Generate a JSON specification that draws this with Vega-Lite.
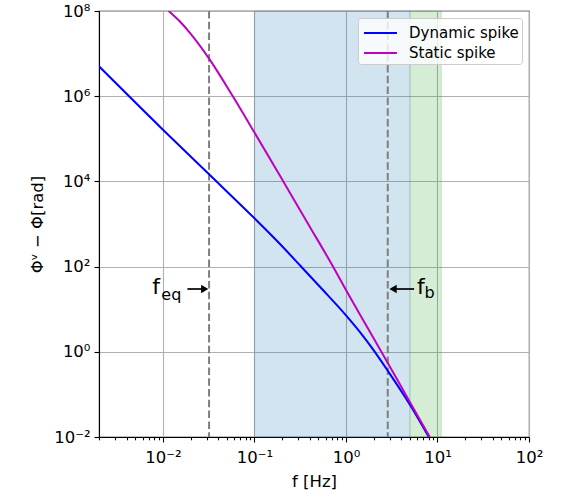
{
  "$schema": "https://vega.github.io/schema/vega-lite/v6.json",
  "width": 430,
  "height": 426,
  "autosize": {"type": "none"},
  "padding": {"left": 99, "top": 11, "right": 40, "bottom": 60},
  "config": {
    "font": "DejaVu Sans",
    "view": {"stroke": "#000000", "strokeWidth": 1.1},
    "axis": {
      "gridColor": "#b0b0b0",
      "gridWidth": 1.1,
      "tickColor": "#000000",
      "tickWidth": 1.1,
      "domainColor": "#000000",
      "domainWidth": 1.1,
      "labelFontSize": 16.5,
      "labelColor": "#000000",
      "labelFlush": false,
      "labelOverlap": false,
      "titleFontSize": 16.5,
      "titleFontWeight": "normal",
      "titleColor": "#000000"
    },
    "legend": {
      "labelFontSize": 15,
      "labelColor": "#000000"
    }
  },
  "datasets": {
    "curves": [
      {"series": "Dynamic spike", "f": 0.002, "phi": 5040000},
      {"series": "Dynamic spike", "f": 0.01, "phi": 163700},
      {"series": "Dynamic spike", "f": 0.03189, "phi": 14690},
      {"series": "Dynamic spike", "f": 0.1, "phi": 1361},
      {"series": "Dynamic spike", "f": 0.1757, "phi": 403.6},
      {"series": "Dynamic spike", "f": 0.3135, "phi": 107.9},
      {"series": "Dynamic spike", "f": 0.56, "phi": 28.25},
      {"series": "Dynamic spike", "f": 1, "phi": 7.19},
      {"series": "Dynamic spike", "f": 1.423, "phi": 2.9},
      {"series": "Dynamic spike", "f": 1.975, "phi": 1.138},
      {"series": "Dynamic spike", "f": 2.883, "phi": 0.3504},
      {"series": "Dynamic spike", "f": 5.02, "phi": 0.0567},
      {"series": "Dynamic spike", "f": 8.05, "phi": 0.01},
      {"series": "Static spike", "f": 0.01154, "phi": 100000000},
      {"series": "Static spike", "f": 0.01524, "phi": 57300000},
      {"series": "Static spike", "f": 0.0196, "phi": 31100000},
      {"series": "Static spike", "f": 0.03245, "phi": 7230000},
      {"series": "Static spike", "f": 0.05691, "phi": 1067000},
      {"series": "Static spike", "f": 0.1001, "phi": 140000},
      {"series": "Static spike", "f": 0.2059, "phi": 10100},
      {"series": "Static spike", "f": 0.4036, "phi": 855},
      {"series": "Static spike", "f": 0.7262, "phi": 97.9},
      {"series": "Static spike", "f": 1, "phi": 28.2},
      {"series": "Static spike", "f": 1.655, "phi": 4.26},
      {"series": "Static spike", "f": 2.883, "phi": 0.531},
      {"series": "Static spike", "f": 5.02, "phi": 0.0649},
      {"series": "Static spike", "f": 8.23, "phi": 0.01}
    ],
    "spans": [
      {"zone": "A", "f": 0.1, "f2": 5},
      {"zone": "B", "f": 5, "f2": 11}
    ],
    "marks": [
      {"name": "f_eq", "f": 0.0319},
      {"name": "f_b", "f": 2.86}
    ],
    "arrows": [
      {"name": "f_eq", "head": 0.0286, "tail": 0.01849, "phi": 29.8, "dir": "right"},
      {"name": "f_b", "head": 3.27, "tail": 5.55, "phi": 29.8, "dir": "left"}
    ],
    "mainText": [
      {"f": 0.00766, "phi": 22.4, "label": "f"},
      {"f": 5.99, "phi": 22.4, "label": "f"}
    ],
    "subText": [
      {"f": 0.0096, "phi": 16.4, "label": "eq"},
      {"f": 7.22, "phi": 18.0, "label": "b"}
    ]
  },
  "layer": [
    {
      "data": {"name": "spans"},
      "mark": {"type": "rect", "fillOpacity": 0.2, "strokeOpacity": 0.2, "strokeWidth": 1},
      "encoding": {
        "x": {
          "field": "f",
          "type": "quantitative",
          "scale": {"type": "log", "domain": [0.002, 100], "nice": false},
          "axis": {
            "title": "f [Hz]",
            "titlePadding": 8,
            "labelPadding": 7,
            "values": [0.002, 0.003, 0.004, 0.005, 0.006, 0.007, 0.008, 0.009, 0.01, 0.02, 0.03, 0.04, 0.05, 0.06, 0.07, 0.08, 0.09, 0.1, 0.2, 0.3, 0.4, 0.5, 0.6, 0.7, 0.8, 0.9, 1, 2, 3, 4, 5, 6, 7, 8, 9, 10, 20, 30, 40, 50, 60, 70, 80, 90, 100],
            "labelExpr": "abs(log(datum.value)/LN10 - round(log(datum.value)/LN10)) < 0.001 ? '10' + ['⁻²','⁻¹','⁰','¹','²'][round(log(datum.value)/LN10)+2] : ''",
            "tickSize": {"condition": {"test": "abs(log(datum.value)/LN10 - round(log(datum.value)/LN10)) < 0.001", "value": 5}, "value": 2.8},
            "gridOpacity": {"condition": {"test": "abs(log(datum.value)/LN10 - round(log(datum.value)/LN10)) < 0.001", "value": 1}, "value": 0}
          }
        },
        "x2": {"field": "f2"},
        "fill": {"field": "zone", "type": "nominal", "scale": {"domain": ["A", "B"], "range": ["#1f77b4", "#2ca02c"]}, "legend": null},
        "stroke": {"field": "zone", "type": "nominal", "scale": {"domain": ["A", "B"], "range": ["#1f77b4", "#2ca02c"]}, "legend": null}
      }
    },
    {
      "data": {"name": "marks"},
      "mark": {"type": "rule", "color": "#7f7f7f", "strokeWidth": 2, "strokeDash": [7.5, 3.3]},
      "encoding": {
        "x": {"field": "f", "type": "quantitative", "scale": {"type": "log", "domain": [0.002, 100], "nice": false}}
      }
    },
    {
      "data": {"name": "curves"},
      "mark": {"type": "line", "strokeWidth": 2, "clip": true, "interpolate": "monotone"},
      "encoding": {
        "x": {"field": "f", "type": "quantitative", "scale": {"type": "log", "domain": [0.002, 100], "nice": false}},
        "y": {
          "field": "phi",
          "type": "quantitative",
          "scale": {"type": "log", "domain": [0.01, 100000000], "nice": false},
          "axis": {
            "title": "Φᵛ − Φ[rad]",
            "titlePadding": 8,
            "labelPadding": 4,
            "values": [0.01, 1, 100, 10000, 1000000, 100000000],
            "labelExpr": "'10' + ['⁻²','⁻¹','⁰','¹','²','³','⁴','⁵','⁶','⁷','⁸'][round(log(datum.value)/LN10)+2]",
            "tickSize": 5
          }
        },
        "color": {
          "field": "series",
          "type": "nominal",
          "scale": {"domain": ["Dynamic spike", "Static spike"], "range": ["#0000ff", "#bf00bf"]},
          "legend": {
            "title": null,
            "orient": "top-right",
            "offset": 7,
            "fillColor": "rgba(255,255,255,0.8)",
            "strokeColor": "#cccccc",
            "cornerRadius": 3,
            "padding": 3,
            "rowPadding": 0,
            "labelOffset": 24,
            "symbolType": "M-0.82,0H2.18",
            "symbolSize": 484,
            "symbolStrokeWidth": 2
          }
        }
      }
    },
    {
      "data": {"name": "arrows"},
      "mark": {"type": "rule", "color": "#000000", "strokeWidth": 1.7},
      "encoding": {
        "x": {"field": "head", "type": "quantitative", "scale": {"type": "log", "domain": [0.002, 100], "nice": false}},
        "x2": {"field": "tail"},
        "y": {"field": "phi", "type": "quantitative", "scale": {"type": "log", "domain": [0.01, 100000000], "nice": false}}
      }
    },
    {
      "data": {"name": "arrows"},
      "mark": {"type": "point", "filled": true, "color": "#000000", "opacity": 1, "size": 70},
      "encoding": {
        "x": {"field": "head", "type": "quantitative", "scale": {"type": "log", "domain": [0.002, 100], "nice": false}},
        "y": {"field": "phi", "type": "quantitative", "scale": {"type": "log", "domain": [0.01, 100000000], "nice": false}},
        "shape": {"field": "dir", "type": "nominal", "scale": {"domain": ["right", "left"], "range": ["triangle-right", "triangle-left"]}, "legend": null}
      }
    },
    {
      "data": {"name": "mainText"},
      "mark": {"type": "text", "fontSize": 22, "align": "left", "baseline": "alphabetic", "color": "#000000"},
      "encoding": {
        "x": {"field": "f", "type": "quantitative", "scale": {"type": "log", "domain": [0.002, 100], "nice": false}},
        "y": {"field": "phi", "type": "quantitative", "scale": {"type": "log", "domain": [0.01, 100000000], "nice": false}},
        "text": {"field": "label"}
      }
    },
    {
      "data": {"name": "subText"},
      "mark": {"type": "text", "fontSize": 16, "align": "left", "baseline": "alphabetic", "color": "#000000"},
      "encoding": {
        "x": {"field": "f", "type": "quantitative", "scale": {"type": "log", "domain": [0.002, 100], "nice": false}},
        "y": {"field": "phi", "type": "quantitative", "scale": {"type": "log", "domain": [0.01, 100000000], "nice": false}},
        "text": {"field": "label"}
      }
    }
  ]
}
